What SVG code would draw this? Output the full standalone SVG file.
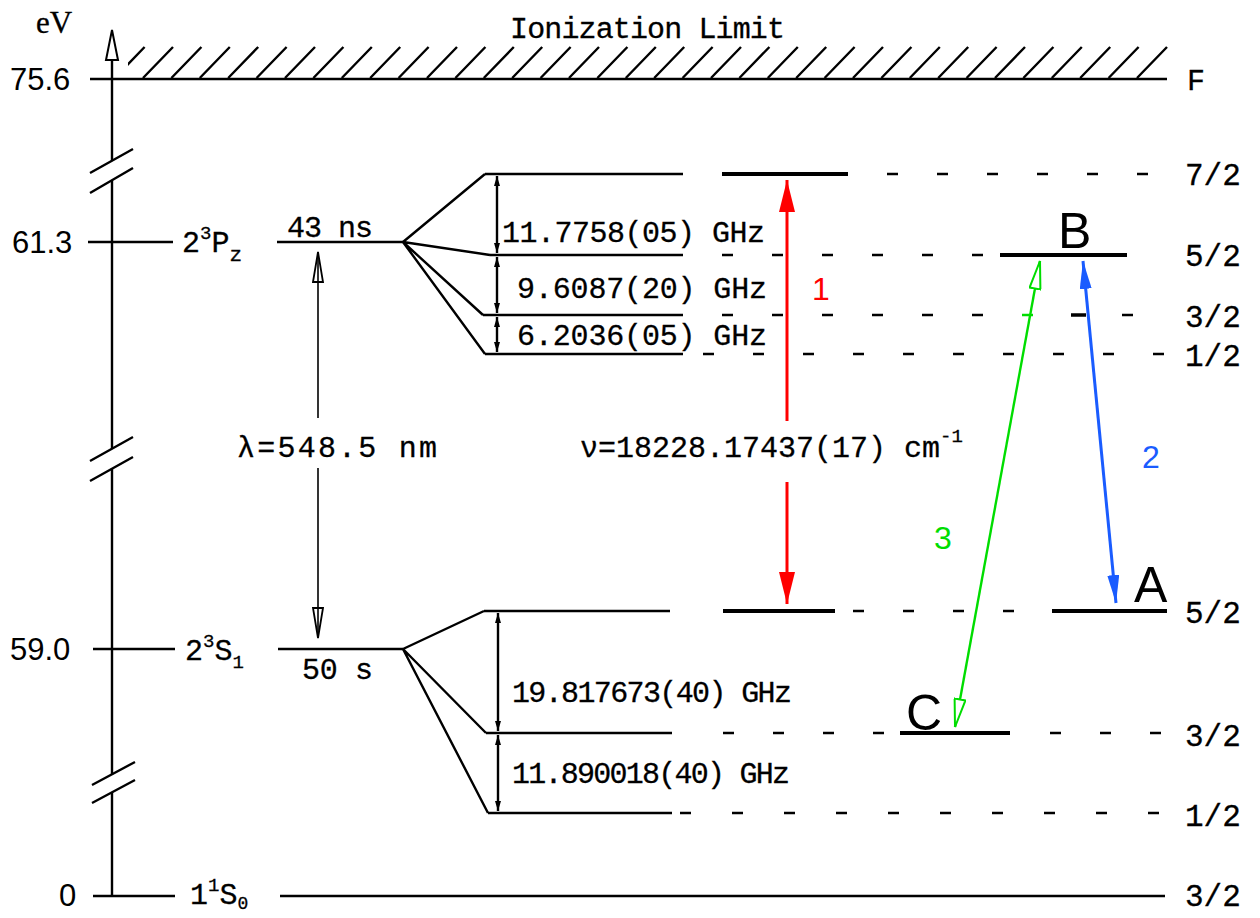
<svg xmlns="http://www.w3.org/2000/svg" width="1260" height="918" viewBox="0 0 1260 918">
<defs>
<style>
.lv{stroke:#000;stroke-width:2.4;fill:none}
.th{stroke:#000;stroke-width:4;fill:none}
.ds{stroke:#000;stroke-width:2.5;fill:none}
.tw{font-family:"Liberation Mono","DejaVu Sans Mono",monospace;font-size:30px;fill:#000;stroke:#000;stroke-width:0.3}
.sn{font-family:"Liberation Sans",Arial,sans-serif;fill:#000}
.rl{font-family:"Liberation Mono","DejaVu Sans Mono",monospace;font-size:31px;fill:#000;stroke:#000;stroke-width:0.3}
</style>
<clipPath id="hc"><rect x="128" y="44" width="1042" height="36"/></clipPath>
<marker id="mr" markerUnits="userSpaceOnUse" viewBox="0 0 32 16" markerWidth="32" markerHeight="16" refX="32" refY="8" orient="auto-start-reverse"><path d="M0,0 L32,8 L0,16 Z" fill="#ff0000"/></marker>
<marker id="mb" markerUnits="userSpaceOnUse" viewBox="0 0 28 12" markerWidth="28" markerHeight="12" refX="28" refY="6" orient="auto-start-reverse"><path d="M0,0 L28,6 L0,12 Z" fill="#1a5cff"/></marker>
<marker id="mg" markerUnits="userSpaceOnUse" viewBox="0 0 30 13" markerWidth="30" markerHeight="13" refX="29" refY="6.5" orient="auto-start-reverse"><path d="M1,1 L29,6.5 L1,12 Z" fill="#ffffff" stroke="#00dd00" stroke-width="2"/></marker>
<marker id="mk" markerUnits="userSpaceOnUse" viewBox="0 0 32 12" markerWidth="32" markerHeight="12" refX="31" refY="6" orient="auto-start-reverse"><path d="M1,1 L31,6 L1,11 Z" fill="none" stroke="#000" stroke-width="1.8"/></marker>
<marker id="ms" markerUnits="userSpaceOnUse" viewBox="0 0 10 6" markerWidth="10" markerHeight="6" refX="10" refY="3" orient="auto-start-reverse"><path d="M0,0 L10,3 L0,6 Z" fill="#000"/></marker>
</defs>
<rect width="1260" height="918" fill="#fff"/>

<g id="axis">
<text x="36" y="33" style="font-family:'Liberation Serif',serif;font-size:31px;fill:#000;stroke:#000;stroke-width:0.3">eV</text>
<path class="lv" d="M112,60 V160.7 M112,180.4 V448.7 M112,468.7 V774.3 M112,792.3 V896"/>
<path d="M112,30 L106,60 L118,60 Z" fill="none" stroke="#000" stroke-width="2"/>
<path class="lv" d="M90,173 L133,149 M90,193 L133,168 M90,461 L133,437 M90,481 L133,457 M92,785 L135,762 M92,803 L135,780"/>
<text class="sn" x="10" y="90" font-size="31">75.6</text>
<text class="sn" x="12" y="253" font-size="31">61.3</text>
<text class="sn" x="10" y="660" font-size="31">59.0</text>
<text class="sn" x="59" y="906" font-size="31">0</text>
<path class="lv" d="M88,242 H173 M93,649 H175 M93,896 H175"/>
</g>

<g id="ionization-limit">
<text class="tw" x="510" y="38" textLength="275">Ionization Limit</text>
<path class="lv" d="M90,79 H1167" stroke-width="2.8"/>
<path class="lv" clip-path="url(#hc)" d="M114.6,78 l30,-31 M143,78 l30,-31 M171.4,78 l30,-31 M199.8,78 l30,-31 M228.2,78 l30,-31 M256.6,78 l30,-31 M285,78 l30,-31 M313.4,78 l30,-31 M341.8,78 l30,-31 M370.2,78 l30,-31 M398.6,78 l30,-31 M427,78 l30,-31 M455.4,78 l30,-31 M483.8,78 l30,-31 M512.2,78 l30,-31 M540.6,78 l30,-31 M569,78 l30,-31 M597.4,78 l30,-31 M625.8,78 l30,-31 M654.2,78 l30,-31 M682.6,78 l30,-31 M711,78 l30,-31 M739.4,78 l30,-31 M767.8,78 l30,-31 M796.2,78 l30,-31 M824.6,78 l30,-31 M853,78 l30,-31 M881.4,78 l30,-31 M909.8,78 l30,-31 M938.2,78 l30,-31 M966.6,78 l30,-31 M995,78 l30,-31 M1023.4,78 l30,-31 M1051.8,78 l30,-31 M1080.2,78 l30,-31 M1108.6,78 l30,-31 M1137,78 l30,-31"/>
<text class="tw" x="1187" y="90">F</text>
</g>

<g id="level-2P">
<text class="tw" x="182" y="252">2<tspan dy="-13" font-size="19">3</tspan><tspan dy="13">P</tspan><tspan dy="9" font-size="21">z</tspan></text>
<path class="lv" d="M277,242 H403"/>
<text class="tw" x="287" y="237" textLength="86">43 ns</text>
<path class="lv" d="M403,242 L485,174 M403,242 L490,255 M403,242 L483,315 M403,242 L485,354"/>
</g>

<g id="level-2P-7-2">
<path class="lv" d="M485,174 H683"/>
<path class="th" d="M722,174 H848"/>
<path class="ds" d="M887,174 h11 M937,174 h11 M987,174 h11 M1037,174 h11 M1087,174 h11 M1137,174 h11"/>
<text class="rl" x="1185" y="185">7/2</text>
</g>
<g id="level-2P-5-2">
<path class="lv" d="M490,255 H683"/>
<path class="ds" d="M722,255 h11 M772,255 h11 M822,255 h11 M872,255 h11 M922,255 h11 M972,255 h11"/>
<path class="th" d="M1000,255 H1127"/>
<text class="sn" x="1058" y="248" font-size="50">B</text>
<text class="rl" x="1185" y="266">5/2</text>
</g>
<g id="level-2P-3-2">
<path class="lv" d="M483,315 H683"/>
<path class="ds" d="M722,315 h11 M772,315 h11 M822,315 h11 M872,315 h11 M922,315 h11 M972,315 h11 M1122,315 h11"/>
<path d="M1022,315 h11" stroke="#00dd00" stroke-width="2.5"/>
<path d="M1071,315 h15" stroke="#000" stroke-width="3.5"/>
<text class="rl" x="1185" y="327">3/2</text>
</g>
<g id="level-2P-1-2">
<path class="lv" d="M485,354 H683"/>
<path class="ds" d="M703,354 h11 M753,354 h11 M803,354 h11 M853,354 h11 M903,354 h11 M953,354 h11 M1003,354 h11 M1053,354 h11 M1103,354 h11 M1153,354 h11"/>
<text class="rl" x="1185" y="366">1/2</text>
</g>

<g id="hfs-2P-labels">
<path class="lv" stroke-width="1.5" marker-start="url(#ms)" marker-end="url(#ms)" d="M497,176 V253"/>
<path class="lv" stroke-width="1.5" marker-start="url(#ms)" marker-end="url(#ms)" d="M497,257 V313"/>
<path class="lv" stroke-width="1.5" marker-start="url(#ms)" marker-end="url(#ms)" d="M497,317 V352"/>
<text class="tw" x="502" y="242" textLength="263">11.7758(05) GHz</text>
<text class="tw" x="517" y="298" textLength="250">9.6087(20) GHz</text>
<text class="tw" x="517" y="345" textLength="250">6.2036(05) GHz</text>
</g>

<g id="level-2S">
<text class="tw" x="185" y="660">2<tspan dy="-13" font-size="19">3</tspan><tspan dy="13">S</tspan><tspan dy="8" font-size="19">1</tspan></text>
<path class="lv" d="M278,649 H403"/>
<text class="tw" x="302" y="679" textLength="71">50 s</text>
<path class="lv" d="M403,649 L484,611 M403,649 L486,733 M403,649 L488,813"/>
</g>
<g id="level-2S-5-2">
<path class="lv" d="M484,611 H670"/>
<path class="th" d="M723,611 H835"/>
<path class="ds" d="M853,611 h11 M903,611 h11 M953,611 h11 M1003,611 h11"/>
<path class="th" d="M1052,611 H1167"/>
<text class="sn" x="1134" y="602" font-size="50">A</text>
<text class="rl" x="1185" y="623">5/2</text>
</g>
<g id="level-2S-3-2">
<path class="lv" d="M486,733 H672"/>
<path class="ds" d="M723,733 h11 M773,733 h11 M823,733 h11 M873,733 h11 M1050,733 h11 M1100,733 h11 M1150,733 h11"/>
<path class="th" d="M900,733 H1010"/>
<text class="sn" x="906" y="730" font-size="50">C</text>
<text class="rl" x="1185" y="746">3/2</text>
</g>
<g id="level-2S-1-2">
<path class="lv" d="M488,813 H672"/>
<path class="ds" d="M680,813 h11 M732,813 h11 M784,813 h11 M836,813 h11 M888,813 h11 M940,813 h11 M992,813 h11 M1044,813 h11 M1096,813 h11 M1148,813 h11"/>
<text class="rl" x="1185" y="826">1/2</text>
</g>

<g id="hfs-2S-labels">
<path class="lv" stroke-width="1.5" marker-start="url(#ms)" marker-end="url(#ms)" d="M498,613 V731"/>
<path class="lv" stroke-width="1.5" marker-start="url(#ms)" marker-end="url(#ms)" d="M498,735 V811"/>
<text class="tw" x="512" y="702" textLength="280">19.817673(40) GHz</text>
<text class="tw" x="512" y="783" textLength="278">11.890018(40) GHz</text>
</g>

<g id="level-1S">
<text class="tw" x="190" y="904">1<tspan dy="-13" font-size="19">1</tspan><tspan dy="13">S</tspan><tspan dy="5" font-size="18">0</tspan></text>
<path class="lv" d="M280,896 H1165"/>
<text class="rl" x="1185" y="906">3/2</text>
</g>

<g id="connectors">
<path d="M318,252 V418" stroke="#000" stroke-width="1.6" marker-start="url(#mk)"/>
<path d="M318,468 V638" stroke="#000" stroke-width="1.6" marker-end="url(#mk)"/>
<text class="tw" x="237" y="457" font-size="32" textLength="200">λ=548.5 nm</text>
<path d="M787,180 V421" stroke="#ff0000" stroke-width="3" marker-start="url(#mr)"/>
<path d="M787,482 V604" stroke="#ff0000" stroke-width="3" marker-end="url(#mr)"/>
<text class="tw" x="580" y="457" font-size="29">ν=18228.17437(17) cm<tspan dy="-15" font-size="19">-1</tspan></text>
<text class="sn" x="812" y="300" font-size="32" style="fill:#ff0000">1</text>
<path d="M955,727 L1040,261" stroke="#00dd00" stroke-width="2.4" marker-start="url(#mg)" marker-end="url(#mg)"/>
<text class="sn" x="934" y="549" font-size="32" style="fill:#00dd00">3</text>
<path d="M1083,261 L1116,603" stroke="#1a5cff" stroke-width="3" marker-start="url(#mb)" marker-end="url(#mb)"/>
<text class="sn" x="1142" y="468" font-size="32" style="fill:#1a5cff">2</text>
</g>
</svg>
